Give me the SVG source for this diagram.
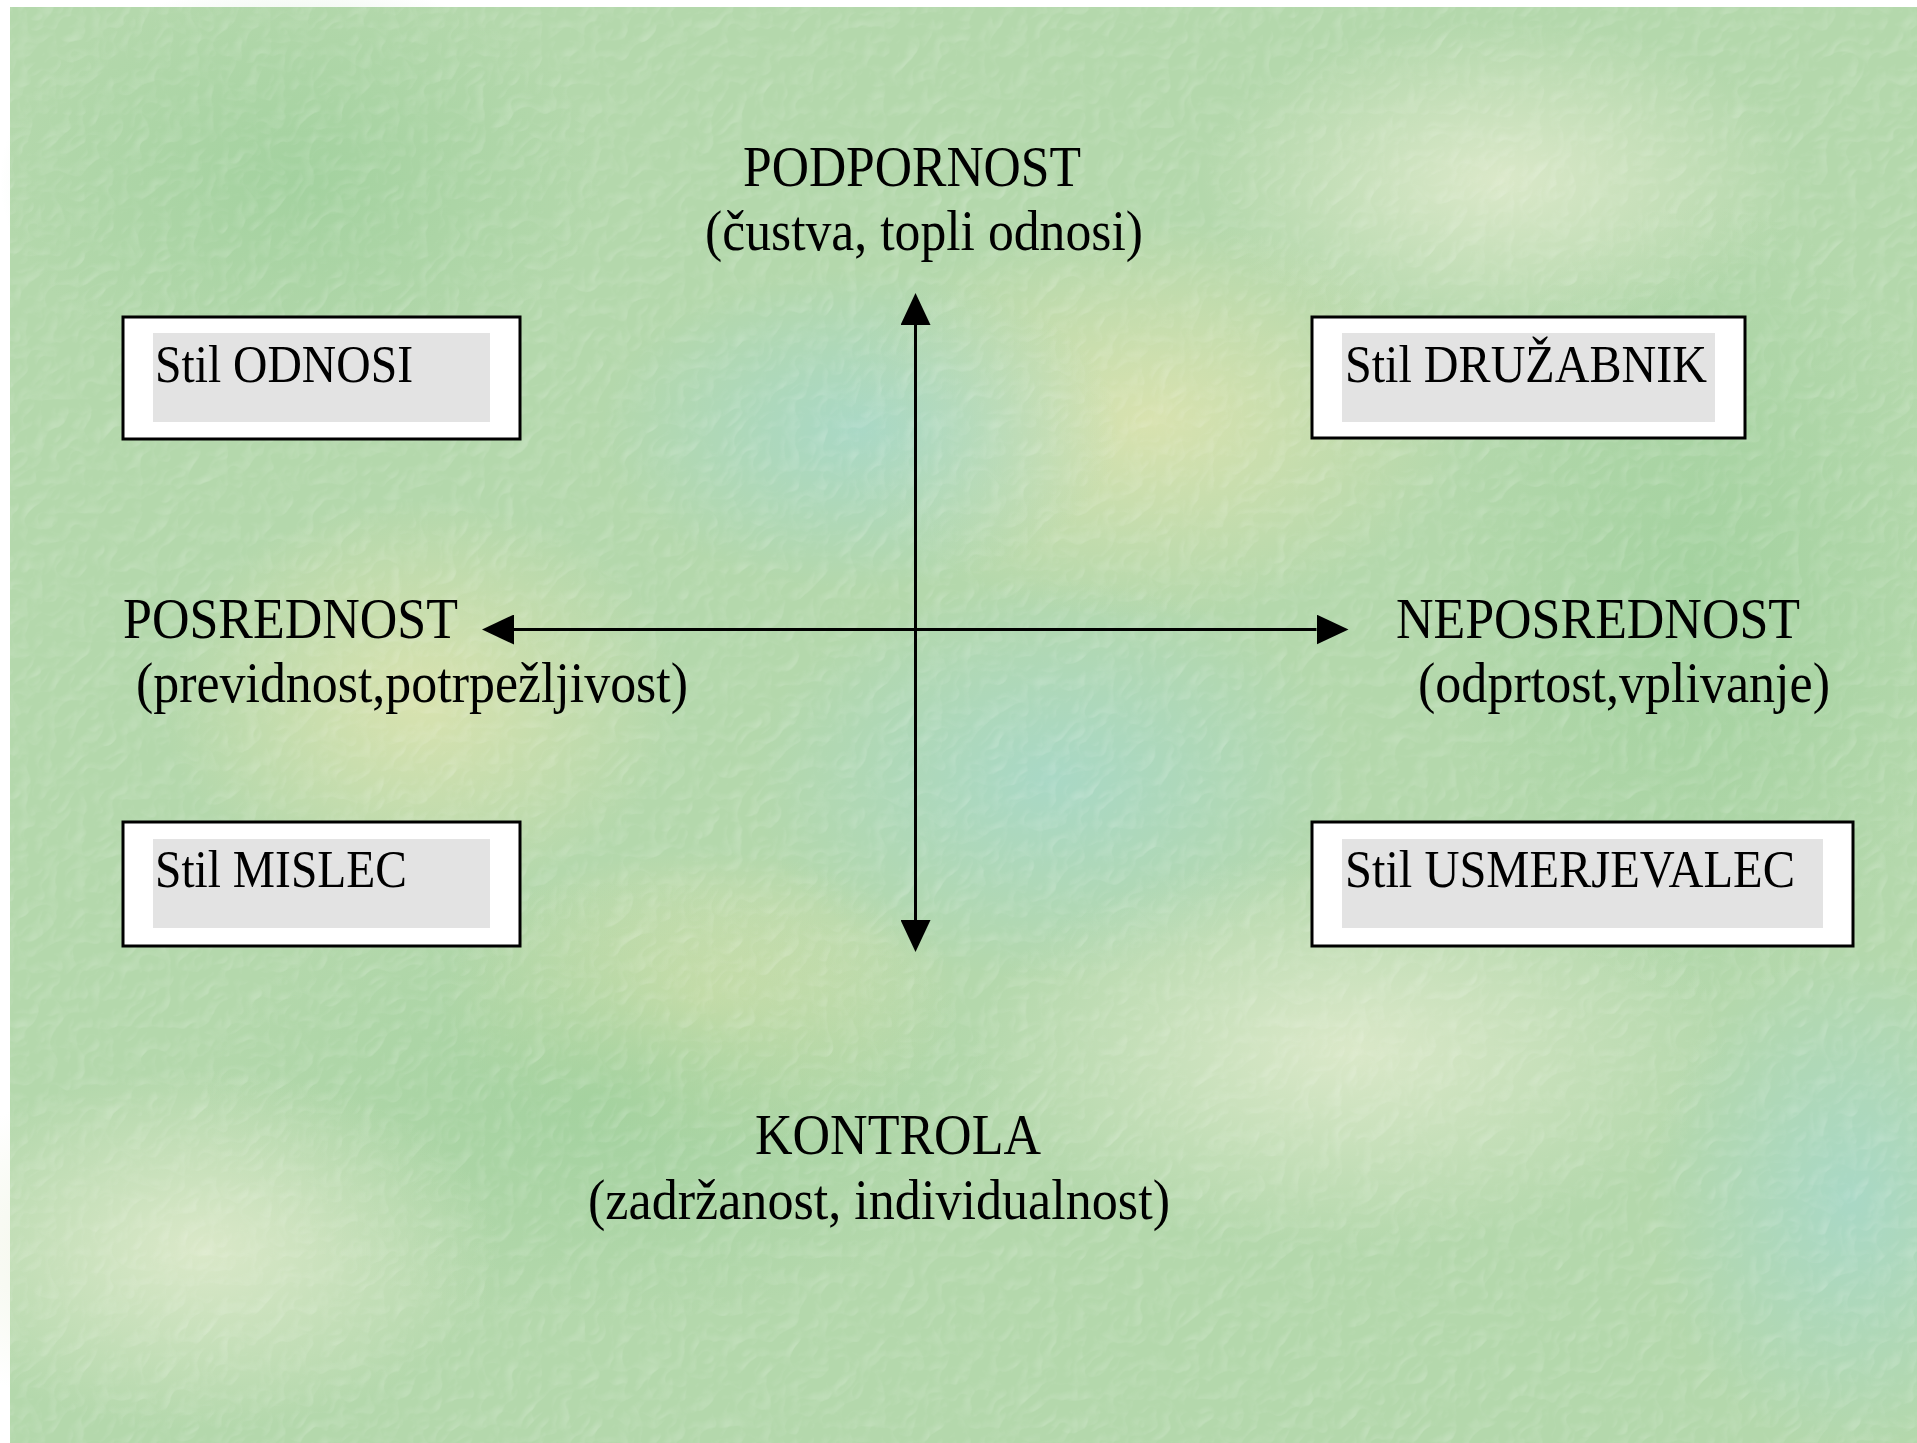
<svg xmlns="http://www.w3.org/2000/svg" width="1917" height="1443" viewBox="0 0 1917 1443">
<style>
.box{fill:#ffffff;stroke:#000000;stroke-width:3}
.inner{fill:#e3e3e3}
.t{font-family:"Liberation Serif","Times New Roman",serif;fill:#000000}
.bt{font-size:53px}
.lt{font-size:56px}
.axis{stroke:#000000;stroke-width:3;fill:none}
</style>
<defs>
<marker id="ah" markerUnits="userSpaceOnUse" markerWidth="32" markerHeight="30" refX="0" refY="15" orient="auto-start-reverse">
<path d="M0,0 L32,15 L0,30 Z" fill="#000000"/>
</marker>
<radialGradient id="g1" cx="0.5" cy="0.5" r="0.5"><stop offset="0" stop-color="#dfe4b0" stop-opacity="0.85"/><stop offset="1" stop-color="#dfe4b0" stop-opacity="0"/></radialGradient>
<radialGradient id="g2" cx="0.5" cy="0.5" r="0.5"><stop offset="0" stop-color="#a6d8cc" stop-opacity="0.8"/><stop offset="1" stop-color="#a6d8cc" stop-opacity="0"/></radialGradient>
<radialGradient id="g3" cx="0.5" cy="0.5" r="0.5"><stop offset="0" stop-color="#9fd09c" stop-opacity="0.8"/><stop offset="1" stop-color="#9fd09c" stop-opacity="0"/></radialGradient>
<radialGradient id="g4" cx="0.5" cy="0.5" r="0.5"><stop offset="0" stop-color="#e4ecd0" stop-opacity="0.8"/><stop offset="1" stop-color="#e4ecd0" stop-opacity="0"/></radialGradient>
<filter id="tex" x="0" y="0" width="100%" height="100%">
<feTurbulence type="turbulence" baseFrequency="0.035" numOctaves="2" seed="11" result="n"/>
<feDiffuseLighting in="n" surfaceScale="2.5" lighting-color="#ffffff" result="l"><feDistantLight azimuth="225" elevation="45"/></feDiffuseLighting>
<feColorMatrix in="l" type="matrix" values="0 0 0 0 1  0 0 0 0 1  0 0 0 0 1  -1.2 0 0 0 0.9"/>
</filter>
</defs>
<g id="background">
<rect x="0" y="0" width="1917" height="1443" fill="#ffffff"/>
<rect x="10" y="7" width="1907" height="1436" fill="#b4d8ac"/>
<ellipse cx="1150" cy="420" rx="320" ry="200" fill="url(#g1)"/>
<ellipse cx="420" cy="700" rx="260" ry="200" fill="url(#g1)"/>
<ellipse cx="700" cy="1000" rx="260" ry="150" fill="url(#g1)"/>
<ellipse cx="860" cy="430" rx="260" ry="160" fill="url(#g2)"/>
<ellipse cx="1050" cy="780" rx="300" ry="200" fill="url(#g2)"/>
<ellipse cx="300" cy="180" rx="300" ry="200" fill="url(#g3)"/>
<ellipse cx="1700" cy="600" rx="260" ry="400" fill="url(#g3)"/>
<ellipse cx="600" cy="1100" rx="400" ry="220" fill="url(#g3)"/>
<ellipse cx="1350" cy="1050" rx="380" ry="200" fill="url(#g4)"/>
<ellipse cx="200" cy="1250" rx="300" ry="180" fill="url(#g4)"/>
<ellipse cx="1500" cy="180" rx="300" ry="160" fill="url(#g4)"/>
<ellipse cx="1850" cy="1200" rx="200" ry="250" fill="url(#g2)"/>
<rect x="10" y="7" width="1907" height="1436" filter="url(#tex)" opacity="0.4"/>
</g>
<g id="connectors">
<line class="axis" x1="915.5" y1="325" x2="915.5" y2="920" marker-start="url(#ah)" marker-end="url(#ah)"/>
<line class="axis" x1="514" y1="629.5" x2="1316.5" y2="629.5" marker-start="url(#ah)" marker-end="url(#ah)"/>
</g>
<g id="node-odnosi">
<rect class="box" x="123" y="317" width="397" height="122"/>
<rect class="inner" x="153" y="333" width="337" height="89"/>
<text class="t bt" x="155" y="382" textLength="258" lengthAdjust="spacingAndGlyphs">Stil ODNOSI</text>
</g>
<g id="node-druzabnik">
<rect class="box" x="1312" y="317" width="433" height="121"/>
<rect class="inner" x="1342" y="333" width="373" height="89"/>
<text class="t bt" x="1345" y="382" textLength="362" lengthAdjust="spacingAndGlyphs">Stil DRUŽABNIK</text>
</g>
<g id="node-mislec">
<rect class="box" x="123" y="822" width="397" height="124"/>
<rect class="inner" x="153" y="839" width="337" height="89"/>
<text class="t bt" x="155" y="887" textLength="252" lengthAdjust="spacingAndGlyphs">Stil MISLEC</text>
</g>
<g id="node-usmerjevalec">
<rect class="box" x="1312" y="822" width="541" height="124"/>
<rect class="inner" x="1342" y="839" width="481" height="89"/>
<text class="t bt" x="1345" y="887" textLength="450" lengthAdjust="spacingAndGlyphs">Stil USMERJEVALEC</text>
</g>
<g id="label-podpornost">
<text class="t lt" x="743" y="186" textLength="338" lengthAdjust="spacingAndGlyphs">PODPORNOST</text>
<text class="t lt" x="705" y="250" textLength="438" lengthAdjust="spacingAndGlyphs">(čustva, topli odnosi)</text>
</g>
<g id="label-posrednost">
<text class="t lt" x="123" y="638" textLength="335" lengthAdjust="spacingAndGlyphs">POSREDNOST</text>
<text class="t lt" x="136" y="702" textLength="552" lengthAdjust="spacingAndGlyphs">(previdnost,potrpežljivost)</text>
</g>
<g id="label-neposrednost">
<text class="t lt" x="1396" y="638" textLength="404" lengthAdjust="spacingAndGlyphs">NEPOSREDNOST</text>
<text class="t lt" x="1418" y="702" textLength="412" lengthAdjust="spacingAndGlyphs">(odprtost,vplivanje)</text>
</g>
<g id="label-kontrola">
<text class="t lt" x="755" y="1154" textLength="286" lengthAdjust="spacingAndGlyphs">KONTROLA</text>
<text class="t lt" x="588" y="1219" textLength="582" lengthAdjust="spacingAndGlyphs">(zadržanost, individualnost)</text>
</g>
</svg>
